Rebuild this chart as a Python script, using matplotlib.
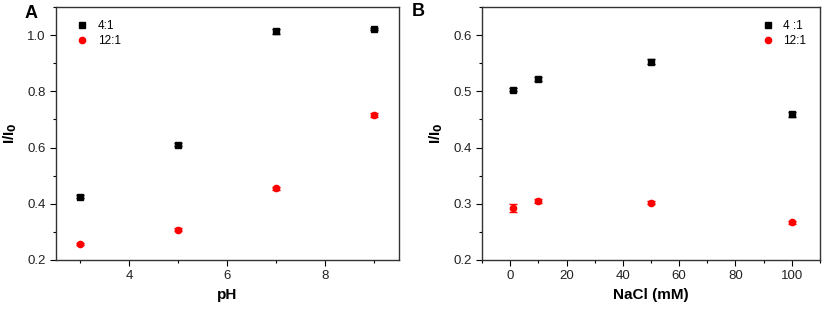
import matplotlib.pyplot as plt
from matplotlib.ticker import MultipleLocator

plt.rcParams["font.family"] = ["Liberation Sans", "DejaVu Sans"]

# panel A: pH
ph = [3, 5, 7, 9]
ph_41 = [0.425, 0.610, 1.013, 1.022]
ph_41_err = [0.005, 0.005, 0.010, 0.005]
ph_121 = [0.257, 0.308, 0.455, 0.717]
ph_121_err = [0.004, 0.005, 0.005, 0.007]

# panel B: NaCl
nacl = [1, 10, 50, 100]
nacl_41 = [0.503, 0.522, 0.553, 0.459]
nacl_41_err = [0.003, 0.003, 0.005, 0.004]
nacl_121 = [0.293, 0.305, 0.302, 0.267]
nacl_121_err = [0.007, 0.004, 0.003, 0.003]

fig = plt.figure(figsize=(8.29, 3.11), dpi=100)
axA = fig.add_axes([56 / 829, 51 / 311, 343 / 829, 253 / 311])
axB = fig.add_axes([482 / 829, 51 / 311, 338 / 829, 253 / 311])

eb = dict(linestyle="none", markersize=4.5, capsize=3, elinewidth=1, capthick=1)

a1 = axA.errorbar(ph, ph_41, yerr=ph_41_err, marker="s", color="black", **eb)
a2 = axA.errorbar(ph, ph_121, yerr=ph_121_err, marker="o", color="red", **eb)
axA.set_xlim(2.5, 9.5)
axA.set_ylim(0.2, 1.1)
axA.xaxis.set_major_locator(MultipleLocator(2))
axA.xaxis.set_minor_locator(MultipleLocator(1))
axA.yaxis.set_major_locator(MultipleLocator(0.2))
axA.yaxis.set_minor_locator(MultipleLocator(0.1))
axA.yaxis.set_major_formatter(plt.FormatStrFormatter("%.1f"))
axA.set_xlabel("pH", fontsize=11, fontweight="bold")
axA.legend([a1[0], a2[0]], ["4:1", "12:1"], loc="upper left",
           bbox_to_anchor=(0.025, 0.99), frameon=False, fontsize=8.5,
           handletextpad=0.7, handlelength=1.2, labelspacing=0.25)

b1 = axB.errorbar(nacl, nacl_41, yerr=nacl_41_err, marker="s", color="black", **eb)
b2 = axB.errorbar(nacl, nacl_121, yerr=nacl_121_err, marker="o", color="red", **eb)
axB.set_xlim(-10, 110)
axB.set_ylim(0.2, 0.65)
axB.xaxis.set_major_locator(MultipleLocator(20))
axB.xaxis.set_minor_locator(MultipleLocator(10))
axB.yaxis.set_major_locator(MultipleLocator(0.1))
axB.yaxis.set_minor_locator(MultipleLocator(0.05))
axB.set_xlabel("NaCl (mM)", fontsize=11, fontweight="bold")
axB.legend([b1[0], b2[0]], ["4 :1", "12:1"], loc="upper right",
           bbox_to_anchor=(0.99, 0.99), frameon=False, fontsize=8.5,
           handletextpad=0.7, handlelength=1.2, labelspacing=0.25)

for ax in (axA, axB):
    ax.set_ylabel("I/I$_\\mathbf{0}$", fontsize=11, fontweight="bold", labelpad=6)
    ax.tick_params(which="both", direction="out", labelsize=9.5, width=0.8,
                   labelcolor="#222222")
    ax.tick_params(which="major", length=4)
    ax.tick_params(which="minor", length=2.5)
    for s in ax.spines.values():
        s.set_linewidth(1.0)
        s.set_color("#333333")

fig.text(25 / 829, 1 - 13 / 311, "A", fontsize=13, fontweight="bold", va="center", ha="left")
fig.text(412 / 829, 1 - 12 / 311, "B", fontsize=13, fontweight="bold", va="center", ha="left")

fig.savefig("out.png", dpi=100)
